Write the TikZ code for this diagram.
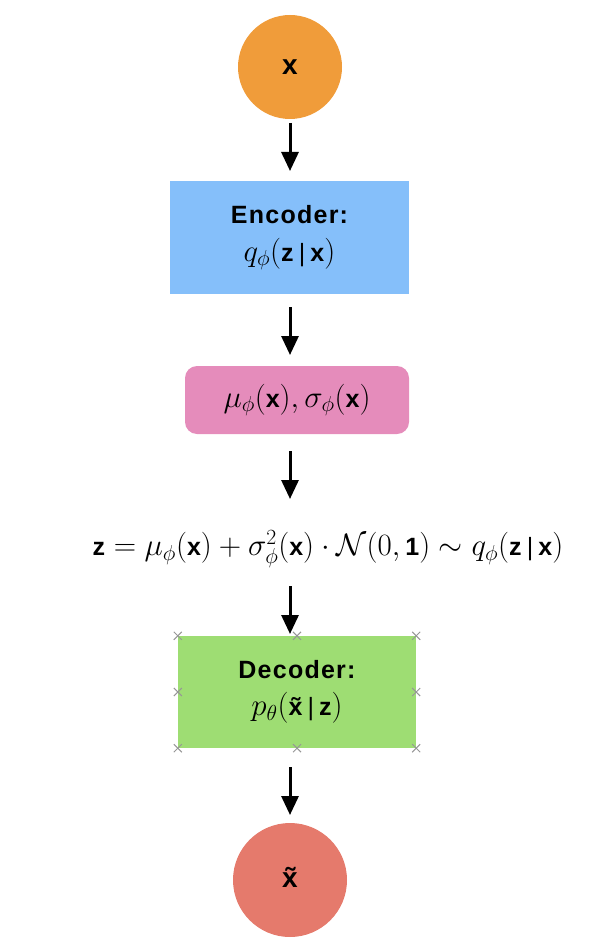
\RequirePackage{fix-cm}
\documentclass[tikz,border=0pt]{standalone}
\usepackage{fontspec}
\usepackage{amsmath}
\usetikzlibrary{arrows.meta}
\newfontfamily\hv[LetterSpace=5]{Liberation Sans}
\newcommand\hvb{\fontsize{25}{38}\selectfont\hv\bfseries}
\newcommand\bsx{\mbox{\hvb x}}
\newcommand\bsz{\mbox{\hvb z}}
\newcommand\tildex{\ooalign{x\cr\hidewidth\char"02DC\hidewidth\cr}}
\newcommand\bsxt{\mbox{\hvb\tildex}}
\newcommand\bsone{\mbox{\hvb 1}}
\newcommand\bbar{\mkern3mu\mbox{\fontsize{25}{38}\selectfont\hv |}\mkern3mu}
\definecolor{cOrange}{RGB}{240,156,58}
\definecolor{cBlue}{RGB}{133,191,250}
\definecolor{cPink}{RGB}{229,140,187}
\definecolor{cGreen}{RGB}{158,221,115}
\definecolor{cRed}{RGB}{229,122,108}
\definecolor{cCross}{RGB}{150,150,150}
\tikzset{
  txt/.style={font=\fontsize{31}{38}\selectfont, align=center, inner sep=0pt},
  circ/.style={circle, draw=none, minimum size=#1, txt},
  box/.style={rectangle, draw=none, txt},
  arr/.style={line width=3pt, -{Triangle[width=17pt,length=19pt]}},
  crossmark/.style={cCross, line width=1pt}
}
\begin{document}
\begin{tikzpicture}[x=1pt,y=-1pt]
\useasboundingbox (0,0) rectangle (606,952);
\node[circ=104pt, fill=cOrange] (xin) at (290,67) {\fontsize{28}{30}\selectfont\hv\bfseries x};
\node[box, fill=cBlue, minimum width=239pt, minimum height=113pt] (enc) at (289.5,237.5)
  {{\hvb Encoder:}\\[0pt] $q_\phi(\bsz\bbar\bsx)$};
\node[box, fill=cPink, rounded corners=12pt, minimum width=224pt, minimum height=68pt] (musig) at (297,400)
  {$\mu_\phi(\bsx), \sigma_\phi(\bsx)$};
\node[txt] (eq) at (328,549)
  {$\bsz = \mu_\phi(\bsx) + \sigma^2_\phi(\bsx)\cdot\mathcal{N}(0,\bsone) \sim q_\phi(\bsz\bbar\bsx)$};
\node[box, fill=cGreen, minimum width=238pt, minimum height=112pt] (dec) at (297,692)
  {{\hvb Decoder:}\\[-1pt] $p_\theta(\bsxt\bbar\bsz)$};
\node[circ=114pt, fill=cRed] (xout) at (290,880) {\fontsize{28}{30}\selectfont\hv\bfseries\tildex};
% arrow end points
\coordinate (a1s) at (290,123); \coordinate (a1e) at (290,171);
\coordinate (a2s) at (290,307); \coordinate (a2e) at (290,355);
\coordinate (a3s) at (290,451); \coordinate (a3e) at (290,499);
\coordinate (a4s) at (290,586); \coordinate (a4e) at (290,634);
\coordinate (a5s) at (290,767); \coordinate (a5e) at (290,815);
\draw[arr] (a1s) -- (a1e);
\draw[arr] (a2s) -- (a2e);
\draw[arr] (a3s) -- (a3e);
\draw[arr] (a4s) -- (a4e);
\draw[arr] (a5s) -- (a5e);
\foreach \a in {north west,north,north east,west,east,south west,south,south east}{
  \draw[crossmark] (dec.\a) ++(-4,-4) -- ++(8,8);
  \draw[crossmark] (dec.\a) ++(-4,4) -- ++(8,-8);
}
\end{tikzpicture}
\end{document}
